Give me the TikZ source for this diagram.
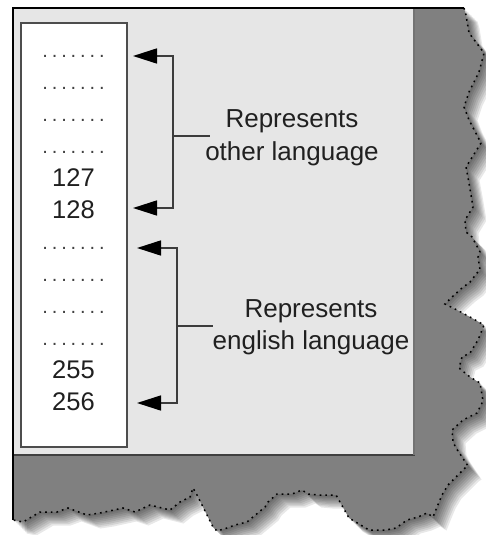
\documentclass[tikz,border=0pt]{standalone}
\usepackage{fontspec}
\setmainfont{Liberation Sans}
\usetikzlibrary{arrows.meta}
\definecolor{paperdark}{HTML}{808080}
\definecolor{paperlight}{HTML}{E6E6E6}
\definecolor{linegray}{HTML}{3C3C3C}
\definecolor{boxgray}{HTML}{4D4D4D}
\definecolor{txt}{HTML}{202020}
\newcommand\tornpath{(13,8) -- (464,8) -- (466,15) -- (469,33) -- (484,53) -- (479,72) -- (469,92) -- (464,107) -- (469,120) -- (481,143) -- (466,167) -- (469,183) -- (473,207) -- (465,220) -- (466,232) -- (472,237) -- (480,252) -- (478,257) -- (480,270) -- (477,273) -- (470,282) -- (462,288) -- (452,297) -- (445,304) -- (457,310) -- (470,317) -- (484,325) -- (478,340) -- (470,353) -- (462,357) -- (459,368) -- (470,377) -- (480,383) -- (483,401) -- (477,413) -- (463,420) -- (452,430) -- (453,442) -- (456,448) -- (468,466) -- (465,468) -- (448,485) -- (442,495) -- (437,507) -- (433,517) -- (427,513) -- (418,517) -- (407,520) -- (396,528) -- (386,530) -- (369,530) -- (349,518) -- (336,495) -- (319,495) -- (308,494) -- (302,490) -- (292,494) -- (277,494) -- (268,502) -- (265,507) -- (247,522) -- (235,525) -- (227,528) -- (217,531) -- (213,527) -- (208,517) -- (203,507) -- (197,495) -- (193,488) -- (190,497) -- (180,502) -- (170,510) -- (150,505) -- (135,512) -- (123,508) -- (100,513) -- (87,515) -- (68,508) -- (57,512) -- (40,512) -- (23,522) -- (13,520)}
\newcommand\dotrow{.\kern3.9pt.\kern3.9pt.\kern3.9pt.\kern3.9pt.\kern3.9pt.\kern3.9pt.}
\tikzset{
  rowtext/.style={anchor=base, inner sep=0pt, text=txt, font=\fontsize{25.5}{30}\selectfont},
  dottext/.style={anchor=base, inner sep=0pt, text=txt!85, font=\fontsize{20}{24}\selectfont},
  labeltext/.style={align=center, inner sep=0pt, text=txt},
  bracket/.style={draw=linegray, line width=1.6pt,
    {Triangle[length=24pt,width=15pt,color=black,fill=black]}-{Triangle[length=24pt,width=15pt,color=black,fill=black]}},
  tick/.style={draw=linegray, line width=1.6pt},
}
\begin{document}
\begin{tikzpicture}[x=1pt,y=-1pt]
\useasboundingbox (0,0) rectangle (486,535);
% shadow
\foreach \s in {1.5,3,...,13.5} {
  \fill[black,opacity=0.09,shift={(\s,\s)}] \tornpath -- cycle;
}
% torn paper
\fill[paperdark] \tornpath -- cycle;
\draw[black,line width=1.5pt,dash pattern=on 1.7pt off 4pt] (464,8) -- (466,15) -- (469,33) -- (484,53) -- (479,72) -- (469,92) -- (464,107) -- (469,120) -- (481,143) -- (466,167) -- (469,183) -- (473,207) -- (465,220) -- (466,232) -- (472,237) -- (480,252) -- (478,257) -- (480,270) -- (477,273) -- (470,282) -- (462,288) -- (452,297) -- (445,304) -- (457,310) -- (470,317) -- (484,325) -- (478,340) -- (470,353) -- (462,357) -- (459,368) -- (470,377) -- (480,383) -- (483,401) -- (477,413) -- (463,420) -- (452,430) -- (453,442) -- (456,448) -- (468,466) -- (465,468) -- (448,485) -- (442,495) -- (437,507) -- (433,517) -- (427,513) -- (418,517) -- (407,520) -- (396,528) -- (386,530) -- (369,530) -- (349,518) -- (336,495) -- (319,495) -- (308,494) -- (302,490) -- (292,494) -- (277,494) -- (268,502) -- (265,507) -- (247,522) -- (235,525) -- (227,528) -- (217,531) -- (213,527) -- (208,517) -- (203,507) -- (197,495) -- (193,488) -- (190,497) -- (180,502) -- (170,510) -- (150,505) -- (135,512) -- (123,508) -- (100,513) -- (87,515) -- (68,508) -- (57,512) -- (40,512) -- (23,522) -- (13,520);
% light panel
\fill[paperlight] (13,8) rectangle (414,455);
\draw[draw=black!75,line width=1.5pt] (13,455) -- (414.5,455);
\draw[draw=black!55,line width=1.2pt] (414,8) -- (414,455);
\draw[black,line width=2pt] (13,520) -- (13,8) -- (464,8);
% white column box
\node[draw=boxgray, line width=1.5pt, fill=white, minimum width=106pt, minimum height=424pt, inner sep=0pt] (box) at (74,235) {};
% rows
\node[dottext] (r1) at (73.5,57) {\dotrow};
\node[dottext] (r2) at (73.5,89) {\dotrow};
\node[dottext] (r3) at (73.5,121) {\dotrow};
\node[dottext] (r4) at (73.5,153) {\dotrow};
\node[rowtext] (r5) at (73.5,186) {127};
\node[rowtext] (r6) at (73.5,218) {128};
\node[dottext] (r7) at (73.5,249) {\dotrow};
\node[dottext] (r8) at (73.5,281) {\dotrow};
\node[dottext] (r9) at (73.5,313) {\dotrow};
\node[dottext] (r10) at (73.5,345) {\dotrow};
\node[rowtext] (r11) at (73.5,378) {255};
\node[rowtext] (r12) at (73.5,410) {256};
% labels
\node[labeltext, font=\fontsize{26}{33}\selectfont] (lbl1) at (292,138) {Represents\\other language};
\node[labeltext, font=\fontsize{26}{32}\selectfont] (lbl2) at (311,327) {Represents\\english language};
% bracket 1
\coordinate (t1) at (133,56);
\coordinate (t2) at (133,208);
\coordinate (c1) at (173,56);
\coordinate (c2) at (173,208);
\coordinate (m1) at (173,136);
\draw[bracket] (t1) -- (c1) -- (c2) -- (t2);
\draw[tick] (m1) -- ([xshift=5pt]lbl1.west |- m1);
% bracket 2
\coordinate (t3) at (137,248);
\coordinate (t4) at (137,403);
\coordinate (c3) at (177,248);
\coordinate (c4) at (177,403);
\coordinate (m2) at (177,326);
\draw[bracket] (t3) -- (c3) -- (c4) -- (t4);
\draw[tick] (m2) -- ([xshift=1pt]lbl2.west |- m2);
\end{tikzpicture}
\end{document}
